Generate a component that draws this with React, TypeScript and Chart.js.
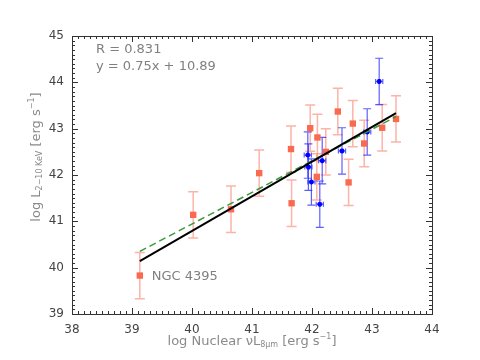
import React, { useEffect, useRef } from "react";
import { Chart, registerables } from "chart.js";

Chart.register(...registerables);

// Red sample (squares)
const redX = [39.13, 40.02, 40.65, 41.12, 41.65, 41.66, 41.97, 42.09, 42.08, 42.23, 42.43, 42.61, 42.68, 42.87, 43.17, 43.4];
const redY = [39.83, 41.14, 41.26, 42.04, 42.56, 41.39, 43.01, 42.81, 41.96, 42.5, 43.37, 41.84, 43.11, 42.68, 43.02, 43.21];
const redYErr = [0.5, 0.5, 0.5, 0.5, 0.5, 0.5, 0.5, 0.5, 0.5, 0.5, 0.5, 0.5, 0.5, 0.5, 0.5, 0.5];

// Blue sample (stars)
const blueX = [41.93, 41.94, 41.99, 42.13, 42.17, 42.5, 42.92, 43.12];
const blueY = [42.43, 42.17, 41.85, 41.37, 42.31, 42.52, 42.93, 44.02];
const blueYErr = [0.5, 0.5, 0.5, 0.5, 0.5, 0.5, 0.5, 0.5];
const blueXErr = [0.06, 0.06, 0.06, 0.06, 0.06, 0.06, 0.06, 0.06];

// Fit lines
const fitX = [39.13, 43.4];
const fitSlope = 0.748;
const fitIntercept = 10.87;
const dashX = [39.13, 43.4];
const dashY = [40.35, 43.26];

// Axes
const xTicks = [38, 39, 40, 41, 42, 43, 44];
const yTicks = [39, 40, 41, 42, 43, 44, 45];

const annotR = "R = 0.831";
const annotFit = "y = 0.75x + 10.89";
const annotLabel = "NGC 4395";
const labelX = 39.13;
const labelY = 39.83;

const FONT = "'DejaVu Sans', 'Liberation Sans', sans-serif";

type Seg = { t: string; s: number; dy: number };

function drawRich(ctx: CanvasRenderingContext2D, segs: Seg[], cx: number, cy: number, color: string) {
  let w = 0;
  for (const sg of segs) {
    ctx.font = `${sg.s}px ${FONT}`;
    w += ctx.measureText(sg.t).width;
  }
  let x = cx - w / 2;
  ctx.fillStyle = color;
  ctx.textBaseline = "middle";
  ctx.textAlign = "left";
  for (const sg of segs) {
    ctx.font = `${sg.s}px ${FONT}`;
    ctx.fillText(sg.t, x, cy + sg.dy);
    x += ctx.measureText(sg.t).width;
  }
}

const customPlugin = {
  id: "custom",
  beforeDatasetsDraw(chart: any) {
    const ctx: CanvasRenderingContext2D = chart.ctx;
    const xs = chart.scales.x;
    const ys = chart.scales.y;
    ctx.save();
    // red error bars
    ctx.strokeStyle = "rgba(250,130,110,0.6)";
    ctx.lineWidth = 1.5;
    redX.forEach((xv, i) => {
      const px = xs.getPixelForValue(xv);
      const p1 = ys.getPixelForValue(redY[i] - redYErr[i]);
      const p2 = ys.getPixelForValue(redY[i] + redYErr[i]);
      ctx.beginPath();
      ctx.moveTo(px, p1);
      ctx.lineTo(px, p2);
      ctx.moveTo(px - 5, p1);
      ctx.lineTo(px + 5, p1);
      ctx.moveTo(px - 5, p2);
      ctx.lineTo(px + 5, p2);
      ctx.stroke();
    });
    // blue error bars
    ctx.strokeStyle = "rgba(40,40,255,0.75)";
    ctx.lineWidth = 1.2;
    blueX.forEach((xv, i) => {
      const px = xs.getPixelForValue(xv);
      const py = ys.getPixelForValue(blueY[i]);
      const p1 = ys.getPixelForValue(blueY[i] - blueYErr[i]);
      const p2 = ys.getPixelForValue(blueY[i] + blueYErr[i]);
      const q1 = xs.getPixelForValue(xv - blueXErr[i]);
      const q2 = xs.getPixelForValue(xv + blueXErr[i]);
      ctx.beginPath();
      ctx.moveTo(px, p1);
      ctx.lineTo(px, p2);
      ctx.moveTo(px - 4, p1);
      ctx.lineTo(px + 4, p1);
      ctx.moveTo(px - 4, p2);
      ctx.lineTo(px + 4, p2);
      ctx.moveTo(q1, py);
      ctx.lineTo(q2, py);
      ctx.moveTo(q1, py - 2.5);
      ctx.lineTo(q1, py + 2.5);
      ctx.moveTo(q2, py - 2.5);
      ctx.lineTo(q2, py + 2.5);
      ctx.stroke();
    });
    ctx.restore();
  },
  afterDraw(chart: any) {
    const ctx: CanvasRenderingContext2D = chart.ctx;
    const xs = chart.scales.x;
    const ys = chart.scales.y;
    const a = chart.chartArea;
    ctx.save();
    ctx.strokeStyle = "#333";
    ctx.lineWidth = 1;
    ctx.strokeRect(Math.round(a.left) + 0.5, Math.round(a.top) + 0.5, Math.round(a.right - a.left), Math.round(a.bottom - a.top));
    ctx.beginPath();
    for (let k = 380; k <= 440; k++) {
      const v = k / 10;
      const major = k % 10 === 0;
      const len = major ? 6 : 3;
      const px = Math.round(xs.getPixelForValue(v)) + 0.5;
      ctx.moveTo(px, a.bottom);
      ctx.lineTo(px, a.bottom - len);
      ctx.moveTo(px, a.top);
      ctx.lineTo(px, a.top + len);
    }
    for (let k = 390; k <= 450; k++) {
      const v = k / 10;
      const major = k % 10 === 0;
      const len = major ? 6 : 3;
      const py = Math.round(ys.getPixelForValue(v)) + 0.5;
      ctx.moveTo(a.left, py);
      ctx.lineTo(a.left + len, py);
      ctx.moveTo(a.right, py);
      ctx.lineTo(a.right - len, py);
    }
    ctx.stroke();

    // annotations
    ctx.fillStyle = "#808080";
    ctx.font = `13px ${FONT}`;
    ctx.textAlign = "left";
    ctx.textBaseline = "middle";
    ctx.fillText(annotR, a.left + 24, a.top + 14);
    ctx.fillText(annotFit, a.left + 24, a.top + 31);
    ctx.fillText(annotLabel, xs.getPixelForValue(labelX) + 12, ys.getPixelForValue(labelY) + 1);

    // axis titles
    const tc = "#8a8a8a";
    drawRich(
      ctx,
      [
        { t: "log Nuclear ", s: 13, dy: 0 },
        { t: "\u03BDL", s: 13, dy: 0 },
        { t: "8\u03BCm", s: 8, dy: 3 },
        { t: " [erg s", s: 13, dy: 0 },
        { t: "\u22121", s: 8, dy: -5 },
        { t: "]", s: 13, dy: 0 },
      ],
      (a.left + a.right) / 2,
      342,
      tc
    );
    ctx.save();
    ctx.translate(37, 157);
    ctx.rotate(-Math.PI / 2);
    drawRich(
      ctx,
      [
        { t: "log L", s: 13, dy: 0 },
        { t: "2\u221210 KeV", s: 8, dy: 3 },
        { t: " [erg s", s: 13, dy: 0 },
        { t: "\u22121", s: 8, dy: -5 },
        { t: "]", s: 13, dy: 0 },
      ],
      0,
      0,
      tc
    );
    ctx.restore();
    ctx.restore();
  },
};

export default function App() {
  const ref = useRef<HTMLCanvasElement | null>(null);
  useEffect(() => {
    if (!ref.current) return;
    const chart = new Chart(ref.current, {
      type: "scatter",
      data: {
        datasets: [
          {
            type: "line",
            data: fitX.map((x) => ({ x, y: fitSlope * x + fitIntercept })),
            borderColor: "#000",
            borderWidth: 2,
            pointRadius: 0,
            showLine: true,
            fill: false,
            order: 0,
          } as any,
          {
            type: "line",
            data: dashX.map((x, i) => ({ x, y: dashY[i] })),
            borderColor: "#3a9a3a",
            borderWidth: 1.5,
            borderDash: [7, 4],
            pointRadius: 0,
            showLine: true,
            fill: false,
            order: 1,
          } as any,
          {
            data: blueX.map((x, i) => ({ x, y: blueY[i] })),
            pointStyle: "star",
            radius: 2.5,
            borderColor: "#0000ff",
            backgroundColor: "#0000ff",
            borderWidth: 1.5,
            order: 2,
          } as any,
          {
            data: redX.map((x, i) => ({ x, y: redY[i] })),
            pointStyle: "rect",
            radius: 4.5,
            borderWidth: 0,
            backgroundColor: "#fa6a4e",
            order: 3,
          } as any,
        ],
      },
      options: {
        animation: false,
        responsive: false,
        layout: { padding: { top: 36, right: 48, left: 0, bottom: 0 } },
        plugins: { legend: { display: false }, tooltip: { enabled: false } },
        scales: {
          x: {
            type: "linear",
            min: 38,
            max: 44,
            afterFit: (s: any) => {
              s.height = 46;
            },
            afterBuildTicks: (s: any) => {
              s.ticks = xTicks.map((v) => ({ value: v }));
            },
            grid: { display: false, drawTicks: false },
            border: { display: false },
            ticks: { color: "#444", font: { size: 12, family: FONT }, padding: 9, maxRotation: 0 },
          },
          y: {
            type: "linear",
            min: 39,
            max: 45,
            afterFit: (s: any) => {
              s.width = 72;
            },
            afterBuildTicks: (s: any) => {
              s.ticks = yTicks.map((v) => ({ value: v }));
            },
            grid: { display: false, drawTicks: false },
            border: { display: false },
            ticks: { color: "#444", font: { size: 12, family: FONT }, padding: 8 },
          },
        },
      } as any,
      plugins: [customPlugin],
    });
    return () => chart.destroy();
  }, []);
  return (
    <div style={{ position: "fixed", left: 0, top: 0, width: 480, height: 360, background: "#fff" }}>
      <canvas ref={ref} width={480} height={360} style={{ width: 480, height: 360 }} />
    </div>
  );
}
